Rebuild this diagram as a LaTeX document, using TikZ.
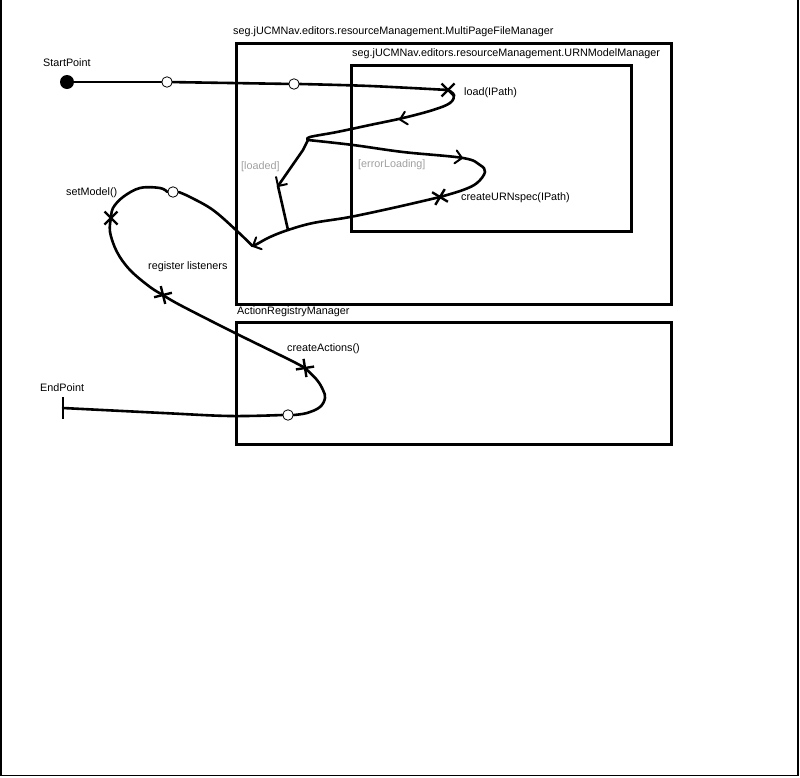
\documentclass[tikz,border=0pt]{standalone}
\usepackage{fontspec}
\setmainfont{Liberation Sans}
\usetikzlibrary{calc}
\definecolor{guardgray}{RGB}{160,160,160}
\tikzset{
  ucm/.style={line width=2.6pt, line cap=round, line join=round},
  compbox/.style={draw, line width=3pt},
  lbl/.style={anchor=west, inner sep=0pt, font=\fontsize{10.8}{12}\selectfont},
  guard/.style={lbl, text=guardgray},
  waypt/.style={circle, draw, fill=white, line width=0.8pt, minimum size=10.5pt, inner sep=0pt},
  startpt/.style={circle, fill=black, minimum size=14pt, inner sep=0pt},
  respline/.style={line width=2.4pt, line cap=butt},
  respx/.pic={\draw[respline] (-6.5,-6.5) -- (6.5,6.5) (-6.5,6.5) -- (6.5,-6.5);},
  chevline/.style={line width=2pt, line cap=round, line join=miter},
  chev/.pic={\draw[chevline] (-6.5,6.5) -- (0,0) -- (-6.5,-6.5);}
}
\begin{document}
\begin{tikzpicture}[x=1pt, y=-1pt]
\useasboundingbox (0,0) rectangle (800,777);
% page frame
\draw[line width=1.2pt] (1,0) -- (1,775.5) -- (798,775.5) -- (798,0);

% components
\node[compbox, minimum width=435pt, minimum height=261pt, anchor=north west] (mpfm) at (235,41.5) {};
\node[compbox, minimum width=280pt, minimum height=166pt, anchor=north west] (urnm) at (350,63.5) {};
\node[compbox, minimum width=435pt, minimum height=122pt, anchor=north west] (arm) at (235,321) {};
\node[lbl] (mpfmlbl) at (233,32) {seg.jUCMNav.editors.resourceManagement.MultiPageFileManager};
\node[lbl] (urnmlbl) at (352,53.5) {seg.jUCMNav.editors.resourceManagement.URNModelManager};
\node[lbl] (armlbl) at (237,312) {ActionRegistryManager};

% path elements
\node[startpt] (start) at (67,82) {};
\node[waypt] (w1) at (167,82) {};
\node[waypt] (w2) at (294,84) {};
\coordinate (load) at (448,90);
\coordinate (fork) at (308,140);
\coordinate (urnspec) at (440,197);
\coordinate (join) at (288,230);
\coordinate (turn) at (252.5,246);
\node[waypt] (w3) at (173,192) {};
\coordinate (setm) at (111,218);
\coordinate (reglis) at (163,295);
\coordinate (acts) at (305,368);
\node[waypt] (w4) at (288,415) {};
\coordinate (endpt) at (63,408);

% path labels
\node[lbl] (startlbl) at (43,63) {StartPoint};
\node[lbl] (loadlbl) at (464,93) {load(IPath)};
\node[lbl] (urnspeclbl) at (461,198) {createURNspec(IPath)};
\node[guard] (loadedlbl) at (241,167) {[loaded]};
\node[guard] (errlbl) at (358,165) {[errorLoading]};
\node[lbl] (setmlbl) at (66,193) {setModel()};
\node[lbl] (reglbl) at (148,267) {register listeners};
\node[lbl] (actslbl) at (287,349) {createActions()};
\node[lbl] (endlbl) at (40,388) {EndPoint};

% route
\draw[ucm] (start) -- (w1);
\draw[ucm] (w1) -- (w2);
\draw[ucm] plot[smooth, tension=0.6] coordinates {(w2.east) (370,86) (load)};
\draw[ucm] plot[smooth, tension=0.6] coordinates {(load) (454,95) (450,103) (433,110) (403,118) (370,125) (337,132) (310,137) (fork)};
\draw[ucm] plot[smooth, tension=0.6] coordinates {(fork) (353,145) (403,152) (463,158) (480,165) (485,172) (477,183) (463,190) (urnspec)};
\draw[ucm] plot[smooth, tension=0.6] coordinates {(urnspec) (397,207) (350,217) (313,223) (join) (270,237) (257,244) (turn)};
\draw[ucm] (fork) -- (303,150) -- (278,186) -- (join);
\draw[ucm] plot[smooth, tension=0.6] coordinates {(turn) (237,231) (213,210) (190,197) (w3.east)};
\draw[ucm] plot[smooth, tension=0.6] coordinates {(w3.west) (160,188) (140,188) (123,197) (113,208) (setm)};
\draw[ucm] plot[smooth, tension=0.6] coordinates {(setm) (110,232) (117,252) (130,270) (150,287) (reglis)};
\draw[ucm] plot[smooth, tension=0.6] coordinates {(reglis) (180,305) (233,332) (290,360) (acts)};
\draw[ucm] plot[smooth, tension=0.6] coordinates {(acts) (317,380) (323,390) (325,398) (320,407) (307,413) (w4.east)};
\draw[ucm] plot[smooth, tension=0.6] coordinates {(w4.west) (230,416) (163,413) (endpt)};
\draw[ucm, line cap=butt] ($(endpt)+(0,-11)$) -- ($(endpt)+(0,11)$);

% responsibilities, crossed at 45 degrees to the route
\pic[rotate=0] at (load) {respx};
\pic[rotate=14] at (urnspec) {respx};
\pic[rotate=0] at (setm) {respx};
\pic[rotate=-31] at (reglis) {respx};
\pic[rotate=-36] at (acts) {respx};

% direction arrows
\pic[rotate=193] at (400,119.5) {chev};
\pic[rotate=-10] at (462,158) {chev};
\pic[rotate=237] at (278,186) {chev};
\pic[rotate=205] at (253,246) {chev};
\end{tikzpicture}
\end{document}
